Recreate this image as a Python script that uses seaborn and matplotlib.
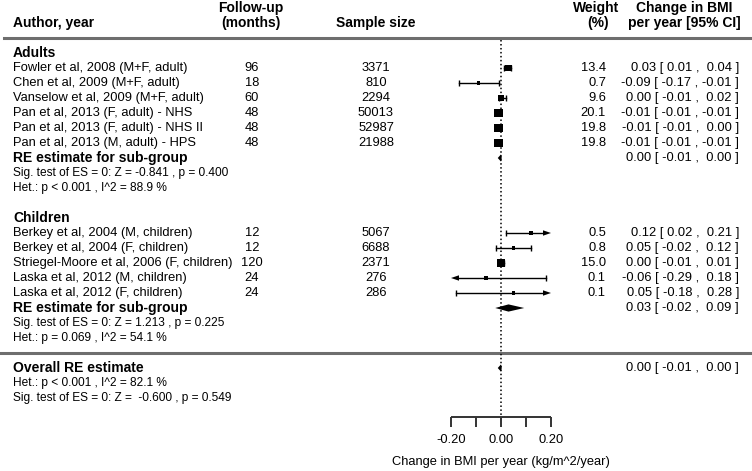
import numpy as np
import pandas as pd
import seaborn as sns
import matplotlib.pyplot as plt

plt.rcParams['font.family'] = ['Liberation Sans', 'DejaVu Sans']

# study data
studies = ["Fowler et al, 2008 (M+F, adult)", "Chen et al, 2009 (M+F, adult)",
           "Vanselow et al, 2009 (M+F, adult)", "Pan et al, 2013 (F, adult) - NHS",
           "Pan et al, 2013 (F, adult) - NHS II", "Pan et al, 2013 (M, adult) - HPS",
           "Berkey et al, 2004 (M, children)", "Berkey et al, 2004 (F, children)",
           "Striegel-Moore et al, 2006 (F, children)", "Laska et al, 2012 (M, children)",
           "Laska et al, 2012 (F, children)"]
groups = ["Adults"] * 6 + ["Children"] * 5
followup = [96, 18, 60, 48, 48, 48, 12, 12, 120, 24, 24]
sample = [3371, 810, 2294, 50013, 52987, 21988, 5067, 6688, 2371, 276, 286]
weight = [13.4, 0.7, 9.6, 20.1, 19.8, 19.8, 0.5, 0.8, 15.0, 0.1, 0.1]
est = [0.03, -0.09, 0.00, -0.01, -0.01, -0.01, 0.12, 0.05, 0.00, -0.06, 0.05]
lo = [0.01, -0.17, -0.01, -0.01, -0.01, -0.01, 0.02, -0.02, -0.01, -0.29, -0.18]
hi = [0.04, -0.01, 0.02, -0.01, 0.00, -0.01, 0.21, 0.12, 0.01, 0.18, 0.28]

# pooled estimates: adults, children, overall
re_labels = ["RE estimate for sub-group", "RE estimate for sub-group", "Overall RE estimate"]
re_est = [0.00, 0.03, 0.00]
re_lo = [-0.01, -0.02, -0.01]
re_hi = [0.00, 0.09, 0.00]
re_stats = [["Sig. test of ES = 0: Z = -0.841 , p = 0.400", "Het.: p < 0.001 , I^2 = 88.9 %"],
            ["Sig. test of ES = 0: Z = 1.213 , p = 0.225", "Het.: p = 0.069 , I^2 = 54.1 %"],
            ["Het.: p < 0.001 , I^2 = 82.1 %", "Sig. test of ES = 0: Z =  -0.600 , p = 0.549"]]

xticks = [-0.2, -0.1, 0.0, 0.1, 0.2]
xticklabels = ["-0.20", "", "0.00", "", "0.20"]
xlabel = "Change in BMI per year (kg/m^2/year)"
clip = 0.2

# layout: rows of 15 px, effect 0 at x=501 px, 250 px per unit
study_rows = [1, 2, 3, 4, 5, 6, 12, 13, 14, 15, 16]
group_rows = {"Adults": 0, "Children": 11}
re_rows = [7, 17, 21]


def px(x):
    return (x - 501) / 250.0


df = pd.DataFrame({"study": studies, "group": groups, "followup": followup, "n": sample,
                   "weight": weight, "est": est, "lo": lo, "hi": hi, "row": study_rows})

fig = plt.figure(figsize=(7.52, 4.71), dpi=100)
ax = fig.add_axes([0, 0, 1, 1])
ax.set_xlim(px(0), px(752))
ax.set_ylim((471 - 53) / 15.0, -53 / 15.0)
ax.axis('off')

fs = 9.25
fs_small = 8.6
fs_bold = 10

# header
hdr = dict(fontsize=fs_bold, fontweight='bold', va='center')
ax.text(px(13), -2, "Author, year", ha='left', **hdr)
ax.text(px(251), -3, "Follow-up", ha='center', **hdr)
ax.text(px(251), -2, "(months)", ha='center', **hdr)
ax.text(px(376), -2, "Sample size", ha='center', **hdr)
ax.text(px(596), -3, "Weight", ha='center', **hdr)
ax.text(px(598), -2, "(%)", ha='center', **hdr)
ax.text(px(684), -3, "Change in BMI", ha='center', **hdr)
ax.text(px(684), -2, "per year [95% CI]", ha='center', **hdr)

ax.axhline(-1, xmin=4 / 752, color='#6e6e6e', lw=2.2)
ax.axhline(20, color='#6e6e6e', lw=2.2)

# zero reference
ax.vlines(0, -0.85, 24.27, colors='black', linestyles=(0, (1, 1.6)), lw=1.1)

for g, r in group_rows.items():
    ax.text(px(13), r, g, ha='left', va='center', fontsize=fs_bold, fontweight='bold')

cap = 0.17
for _, s in df.iterrows():
    r = s.row
    ax.text(px(13), r, s.study, ha='left', va='center', fontsize=fs)
    ax.text(px(252), r, str(s.followup), ha='center', va='center', fontsize=fs)
    ax.text(px(376), r, str(s.n), ha='center', va='center', fontsize=fs)
    ax.text(px(606), r, f"{s.weight:.1f}", ha='right', va='center', fontsize=fs)
    ax.text(px(739), r, f"{s.est:.2f} [ {s.lo:.2f} , {s.hi:5.2f} ]", ha='right', va='center', fontsize=fs)

    a, b = max(s.lo, -clip), min(s.hi, clip)
    la = a + 0.032 if s.lo < -clip else a
    lb = b - 0.032 if s.hi > clip else b
    ax.plot([la, lb], [r, r], color='black', lw=1)
    if s.lo < -clip:
        ax.fill([a, a + 0.032, a + 0.032], [r, r - 0.18, r + 0.18], color='black', lw=0)
    else:
        ax.vlines(a, r - cap, r + cap, colors='black', lw=1)
    if s.hi > clip:
        ax.fill([b, b - 0.032, b - 0.032], [r, r - 0.18, r + 0.18], color='black', lw=0)
    else:
        ax.vlines(b, r - cap, r + cap, colors='black', lw=1)

sns.scatterplot(data=df, x='est', y='row', size='weight', sizes=(5, 34), marker='s',
                color='black', linewidth=0, legend=False, ax=ax, zorder=3)

# pooled diamonds and stats
for lab, e, l, h, r, st in zip(re_labels, re_est, re_lo, re_hi, re_rows, re_stats):
    ax.text(px(13), r, lab, ha='left', va='center', fontsize=fs_bold, fontweight='bold')
    ax.text(px(739), r, f"{e:.2f} [ {l:.2f} , {h:5.2f} ]", ha='right', va='center', fontsize=fs)
    hh = 0.24
    ax.fill([l - 0.003, e, h + 0.003, e], [r, r - hh, r, r + hh], color='black', lw=0)
    for k, line in enumerate(st):
        ax.text(px(13), r + 1 + k, line, ha='left', va='center', fontsize=fs_small)

# effect axis
ya = 24.27
ax.hlines(ya, xticks[0], xticks[-1], colors='#333333', lw=1.4)
ax.vlines(xticks, ya, ya + 0.66, colors='#333333', lw=1.4)
for t, tl in zip(xticks, xticklabels):
    if tl:
        ax.text(t, 25.8, tl, ha='center', va='center', fontsize=fs)
ax.text(0, 27.27, xlabel, ha='center', va='center', fontsize=fs)

plt.savefig('out.png', dpi=100)
